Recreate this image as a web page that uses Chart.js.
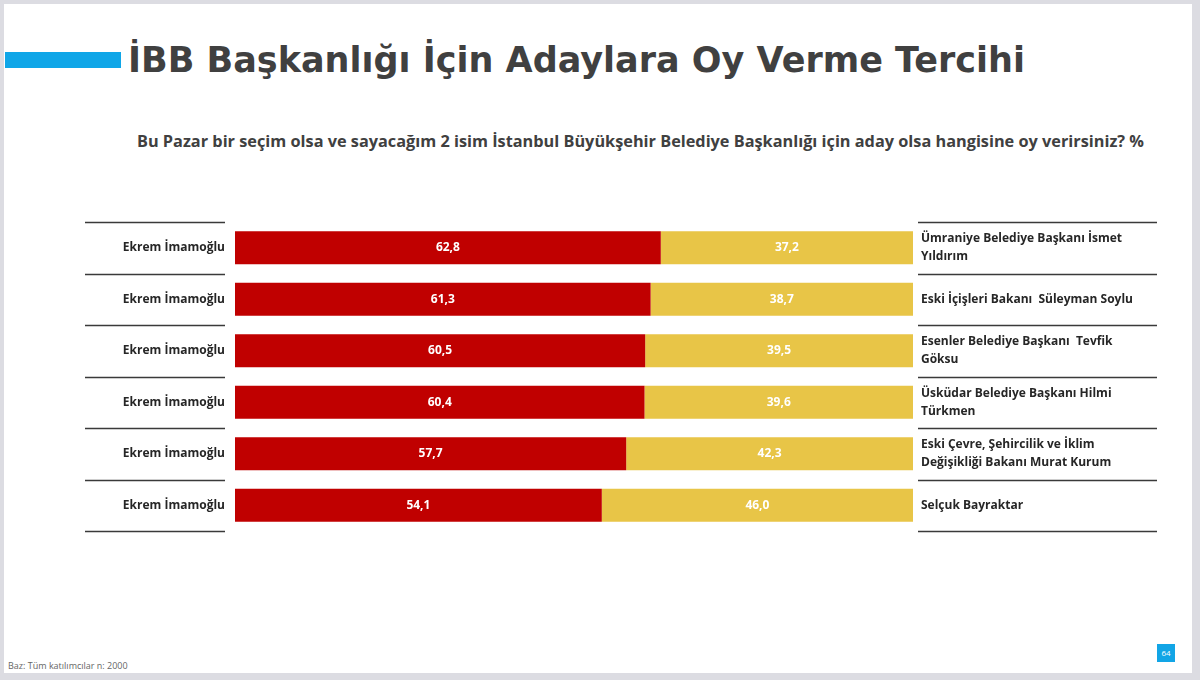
<!DOCTYPE html>
<html>
<head>
<meta charset="utf-8">
<script src="https://cdn.jsdelivr.net/npm/chart.js@4/dist/chart.umd.min.js"></script>
<style>
  body { margin: 0; background: #dcdce2; width: 1200px; height: 680px; overflow: hidden; }
  #slide { position: absolute; left: 4px; top: 4px; width: 1188px; height: 669px; background: #fff; }
  #bluebar { position: absolute; left: 1px; top: 48px; width: 116px; height: 16px; background: #0fa6e8; }
  #title { position: absolute; left: 124px; top: 36px; font-family: "DejaVu Sans"; font-weight: bold; font-size: 35px; color: #404040; white-space: nowrap; }
  #subtitle { position: absolute; left: 133px; top: 126px; font-family: "Open Sans"; font-weight: bold; font-size: 16.3px; color: #404040; white-space: nowrap; }
  #footer { position: absolute; left: 4px; top: 655px; font-family: "Open Sans"; font-size: 9px; color: #666; }
  #pageno { position: absolute; left: 1153px; top: 640px; width: 18px; height: 18px; background: #12a5e6; color: #fff; font-family: "Open Sans"; font-size: 8px; line-height: 18px; text-align: center; }
  #wrap { position: absolute; left: 0; top: 212px; width: 1200px; height: 330px; }
</style>
</head>
<body>
<div id="slide">
  <div id="bluebar"></div>
  <div id="title">İBB Başkanlığı İçin Adaylara Oy Verme Tercihi</div>
  <div id="subtitle">Bu Pazar bir seçim olsa ve sayacağım 2 isim İstanbul Büyükşehir Belediye Başkanlığı için aday olsa hangisine oy verirsiniz? %</div>
  <div id="footer">Baz: Tüm katılımcılar n: 2000</div>
  <div id="pageno">64</div>
</div>
<div id="wrap"><canvas id="chart"></canvas></div>
<script>
// veriler
const leftNames = ["Ekrem İmamoğlu", "Ekrem İmamoğlu", "Ekrem İmamoğlu", "Ekrem İmamoğlu", "Ekrem İmamoğlu", "Ekrem İmamoğlu"];
const rightNames = [
  ["Ümraniye Belediye Başkanı İsmet", "Yıldırım"],
  "Eski İçişleri Bakanı  Süleyman Soylu",
  ["Esenler Belediye Başkanı  Tevfik", "Göksu"],
  ["Üsküdar Belediye Başkanı Hilmi", "Türkmen"],
  ["Eski Çevre, Şehircilik ve İklim", "Değişikliği Bakanı Murat Kurum"],
  "Selçuk Bayraktar"
];
const imamogluVals = [62.8, 61.3, 60.5, 60.4, 57.7, 54.1];
const rivalVals = [37.2, 38.7, 39.5, 39.6, 42.3, 46.0];

// yazi trong bar
const valueLabels = {
  id: "valueLabels",
  afterDatasetsDraw(chart) {
    const ctx = chart.ctx;
    ctx.save();
    ctx.fillStyle = "#fff";
    ctx.font = "bold 12px 'Open Sans'";
    ctx.textAlign = "center";
    ctx.textBaseline = "middle";
    chart.data.datasets.forEach((ds, di) => {
      chart.getDatasetMeta(di).data.forEach((bar, i) => {
        const left = Math.min(bar.base, bar.x);
        const right = Math.min(Math.max(bar.base, bar.x), chart.chartArea.right);
        ctx.fillText(ds.data[i].toFixed(1).replace(".", ","), (left + right) / 2, bar.y);
      });
    });
    ctx.restore();
  }
};

// duong ke ngang 2 ben
const separators = {
  id: "separators",
  afterDraw(chart) {
    const ctx = chart.ctx;
    const area = chart.chartArea;
    const n = leftNames.length;
    ctx.save();
    ctx.strokeStyle = "#3a3a3a";
    ctx.lineWidth = 1.5;
    for (let i = 0; i <= n; i++) {
      const y = Math.round(area.top + (area.bottom - area.top) * i / n) + 0.5;
      ctx.beginPath();
      ctx.moveTo(area.left - 150, y);
      ctx.lineTo(area.left - 10, y);
      ctx.moveTo(area.right + 5, y);
      ctx.lineTo(area.right + 244, y);
      ctx.stroke();
    }
    ctx.restore();
  }
};

new Chart(document.getElementById("chart"), {
  type: "bar",
  data: {
    labels: leftNames,
    datasets: [
      { data: imamogluVals, backgroundColor: "#c00000", categoryPercentage: 1, barPercentage: 0.64 },
      { data: rivalVals, backgroundColor: "#e8c547", categoryPercentage: 1, barPercentage: 0.64 }
    ]
  },
  options: {
    indexAxis: "y",
    responsive: true,
    maintainAspectRatio: false,
    animation: false,
    layout: { padding: { top: 10, bottom: 11, left: 0, right: 0 } },
    plugins: { legend: { display: false }, tooltip: { enabled: false } },
    scales: {
      x: { stacked: true, min: 0, max: 100, display: false },
      y: {
        stacked: true,
        position: "left",
        grid: { display: false },
        border: { display: false },
        ticks: { padding: 2, color: "#262626", font: { family: "Open Sans", weight: "bold", size: 12 } },
        afterFit(s) { s.width = 235; s.paddingTop = 0; s.paddingBottom = 0; }
      },
      y2: {
        type: "category",
        labels: rightNames,
        position: "right",
        offset: true,
        grid: { display: false },
        border: { display: false },
        ticks: { padding: 0, color: "#262626", font: { family: "Open Sans", weight: "bold", size: 12, lineHeight: 1.5 } },
        afterFit(s) { s.width = 287; s.paddingTop = 0; s.paddingBottom = 0; }
      }
    }
  },
  plugins: [valueLabels, separators]
});
</script>
</body>
</html>
